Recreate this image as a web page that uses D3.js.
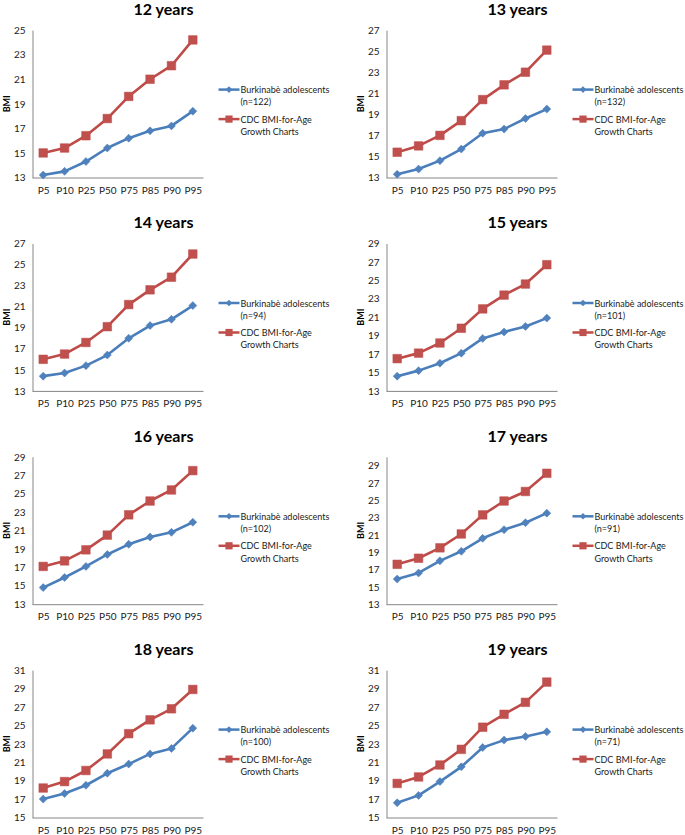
<!DOCTYPE html>
<html>
<head>
<meta charset="utf-8">
<script src="https://cdn.jsdelivr.net/npm/d3@7"></script>
<style>
  html, body { margin: 0; padding: 0; background: #fff; }
  svg { display: block; }
  text { font-family: Lato, "Open Sans", "Liberation Sans", sans-serif; }
</style>
</head>
<body>
<svg id="chart" width="685" height="835"></svg>
<script>
// ---------- DATA ----------
const categories = ["P5", "P10", "P25", "P50", "P75", "P85", "P90", "P95"];
const ageTitles = ["12 years", "13 years", "14 years", "15 years", "16 years", "17 years", "18 years", "19 years"];
const sampleSizes = [122, 132, 94, 101, 102, 91, 100, 71];
const seriesNames = ["Burkinabè adolescents", "CDC BMI-for-Age Growth Charts"];

const burkinabe12 = [13.2, 13.5, 14.3, 15.4, 16.2, 16.8, 17.2, 18.4];
const cdc12       = [15.0, 15.4, 16.4, 17.8, 19.6, 21.0, 22.1, 24.2];
const burkinabe13 = [13.3, 13.8, 14.6, 15.7, 17.2, 17.6, 18.6, 19.5];
const cdc13       = [15.4, 16.0, 17.0, 18.4, 20.4, 21.8, 23.0, 25.1];
const burkinabe14 = [14.4, 14.7, 15.4, 16.4, 18.0, 19.2, 19.8, 21.1];
const cdc14       = [16.0, 16.5, 17.6, 19.1, 21.2, 22.6, 23.8, 26.0];
const burkinabe15 = [14.6, 15.2, 16.0, 17.1, 18.7, 19.4, 20.0, 20.9];
const cdc15       = [16.5, 17.1, 18.2, 19.8, 21.9, 23.4, 24.6, 26.7];
const burkinabe16 = [14.8, 15.9, 17.1, 18.4, 19.5, 20.3, 20.8, 21.9];
const cdc16       = [17.1, 17.7, 18.9, 20.5, 22.7, 24.2, 25.4, 27.5];
const burkinabe17 = [15.9, 16.6, 18.0, 19.1, 20.6, 21.6, 22.4, 23.5];
const cdc17       = [17.6, 18.3, 19.5, 21.1, 23.3, 24.9, 26.0, 28.1];
const burkinabe18 = [17.0, 17.6, 18.5, 19.8, 20.8, 21.9, 22.5, 24.7];
const cdc18       = [18.2, 18.9, 20.1, 21.9, 24.1, 25.6, 26.8, 28.9];
const burkinabe19 = [16.6, 17.4, 18.9, 20.5, 22.6, 23.4, 23.8, 24.3];
const cdc19       = [18.7, 19.4, 20.7, 22.4, 24.8, 26.2, 27.5, 29.7];

const burkinabeSeries = [burkinabe12, burkinabe13, burkinabe14, burkinabe15, burkinabe16, burkinabe17, burkinabe18, burkinabe19];
const cdcSeries = [cdc12, cdc13, cdc14, cdc15, cdc16, cdc17, cdc18, cdc19];

const yAxisMin = [13, 13, 13, 13, 13, 13, 15, 15];
const yAxisMax = [25, 27, 27, 29, 29, 30, 31, 31];
const yTickTop = [25, 27, 27, 29, 29, 29, 31, 31];
const yTickStep = 2;

// ---------- STYLE / LAYOUT ----------
const blue = "#4A7EBB", blueMarker = "#4F81BD";
const red = "#BE4B48", redMarker = "#C0504D";
const axisColor = "#868686";
const textColor = "#1a1a1a";

const colX0 = [32.5, 386.5];
const plotW = 171;
const rowTitleY = [8.3, 221.7, 435, 648.3];

const svg = d3.select("#chart");

function diamondPath(r) {
  return `M0,${-r}L${r},0L0,${r}L${-r},0Z`;
}
function squarePath(h) {
  return `M${-h},${-h}H${h}V${h}H${-h}Z`;
}

ageTitles.forEach((title, i) => {
  const col = i % 2, row = Math.floor(i / 2);
  const x0 = colX0[col];
  const tY = rowTitleY[row];
  const yTop = tY + 21.8;
  const yBot = tY + 169.2;

  const g = svg.append("g");

  const x = d3.scalePoint().domain(categories).range([x0, x0 + plotW]).padding(0.5);
  const y = d3.scaleLinear().domain([yAxisMin[i], yAxisMax[i]]).range([yBot, yTop]);

  // Title
  g.append("text")
    .attr("x", x0 + 131).attr("y", tY)
    .attr("text-anchor", "middle").attr("dominant-baseline", "central")
    .attr("font-size", 16).attr("font-weight", "bold").attr("fill", "#000")
    .text(title);

  // Y axis
  const ticks = d3.range(yAxisMin[i], yTickTop[i] + 0.001, yTickStep);
  const yAxis = d3.axisLeft(y).tickValues(ticks).tickSize(0).tickPadding(7).tickFormat(d3.format("d"));
  const ya = g.append("g").attr("transform", `translate(${x0},0)`).call(yAxis);
  ya.select(".domain").attr("stroke", axisColor).attr("stroke-width", 1);
  ya.selectAll("text").attr("font-size", 10).attr("fill", textColor).attr("font-family", "Lato, sans-serif");

  // X axis
  const xAxis = d3.axisBottom(x).tickSize(0).tickPadding(9);
  const xa = g.append("g").attr("transform", `translate(0,${yBot})`).call(xAxis);
  xa.select(".domain").attr("stroke", axisColor).attr("stroke-width", 1)
    .attr("d", `M${x0},0.5H${x0 + plotW}`);
  xa.selectAll("text").attr("font-size", 10).attr("fill", textColor).attr("font-family", "Lato, sans-serif");

  // BMI label
  g.append("text")
    .attr("transform", `translate(${x0 - 26},${(yTop + yBot) / 2}) rotate(-90)`)
    .attr("text-anchor", "middle").attr("dominant-baseline", "central")
    .attr("font-size", 9).attr("font-weight", "bold").attr("fill", "#000")
    .text("BMI");

  const line = d3.line().x((d, k) => x(categories[k])).y(d => y(d));

  // CDC series (red, squares)
  g.append("path").datum(cdcSeries[i])
    .attr("d", line).attr("fill", "none").attr("stroke", red).attr("stroke-width", 2.6)
    .attr("stroke-linejoin", "round");
  g.selectAll(".sq").data(cdcSeries[i]).join("path")
    .attr("transform", (d, k) => `translate(${x(categories[k])},${y(d)})`)
    .attr("d", squarePath(4.3)).attr("fill", redMarker).attr("stroke", red).attr("stroke-width", 0.5);

  // Burkinabe series (blue, diamonds)
  g.append("path").datum(burkinabeSeries[i])
    .attr("d", line).attr("fill", "none").attr("stroke", blue).attr("stroke-width", 2.6)
    .attr("stroke-linejoin", "round");
  g.selectAll(".di").data(burkinabeSeries[i]).join("path")
    .attr("transform", (d, k) => `translate(${x(categories[k])},${y(d)})`)
    .attr("d", diamondPath(4)).attr("fill", blueMarker).attr("stroke", blue).attr("stroke-width", 0.5);

  // Legend
  const lx = x0 + 186;
  const lyBlue = tY + 81.3, lyRed = tY + 110.8;
  g.append("line").attr("x1", lx).attr("x2", lx + 21).attr("y1", lyBlue).attr("y2", lyBlue)
    .attr("stroke", blue).attr("stroke-width", 2.5);
  g.append("path").attr("transform", `translate(${lx + 10.5},${lyBlue})`).attr("d", diamondPath(3.3)).attr("fill", blueMarker);
  g.append("line").attr("x1", lx).attr("x2", lx + 21).attr("y1", lyRed).attr("y2", lyRed)
    .attr("stroke", red).attr("stroke-width", 2.5);
  g.append("path").attr("transform", `translate(${lx + 10.5},${lyRed})`).attr("d", squarePath(3.6)).attr("fill", redMarker);

  const tx = lx + 22;
  const lg = g.append("g");
  const legendLines = [
    [seriesNames[0], `(n=${sampleSizes[i]})`, lyBlue],
    ["CDC BMI-for-Age", "Growth Charts", lyRed]
  ];
  const texts = legendLines.map(([a, b, ly]) => {
    const t = lg.append("text").attr("x", tx).attr("y", ly + 3.6)
      .attr("font-size", 10.4).attr("fill", textColor);
    t.append("tspan").attr("x", tx).text(a);
    t.append("tspan").attr("x", tx).attr("dy", 12.2).text(b);
    return t;
  });
  // condense horizontally so the longest line is ~89px wide (as in the reference)
  const firstLen = texts[0].select("tspan").node().getComputedTextLength();
  const k = Math.min(1, 89 / firstLen);
  lg.attr("transform", `translate(${tx},0) scale(${k},1) translate(${-tx},0)`);
});
</script>
</body>
</html>
